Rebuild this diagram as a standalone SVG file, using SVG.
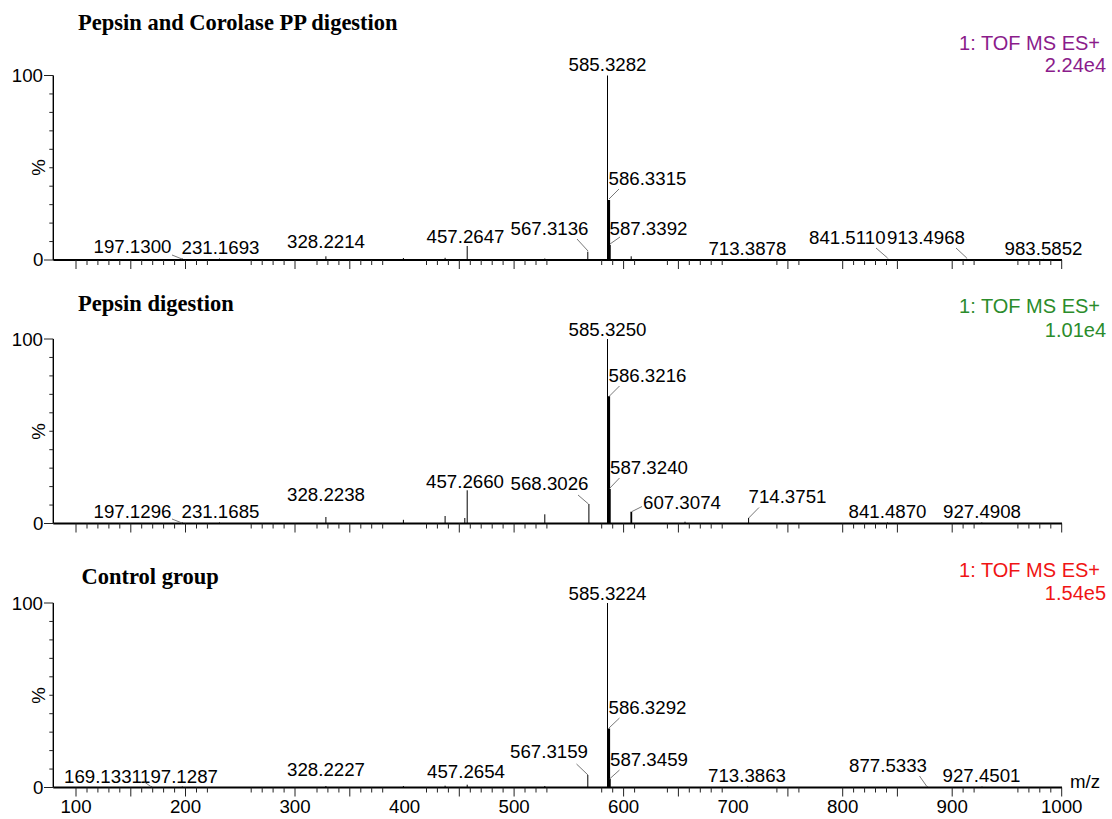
<svg xmlns="http://www.w3.org/2000/svg" width="1112" height="819" viewBox="0 0 1112 819">
<style>
text{font-family:"Liberation Sans",Arial,sans-serif;font-size:18.7px;fill:#000}
.t{font-family:"Liberation Serif","Times New Roman",serif;font-size:22.5px;font-weight:bold}
.h{font-size:20px}
.m{text-anchor:middle}
.e{text-anchor:end}
.ax{stroke:#000;stroke-width:1.4;fill:none}
.bx{stroke:#000;stroke-width:1.8;fill:none}
.tk{stroke:#222;stroke-width:1;fill:none}
.pk{stroke:#000;stroke-width:1;fill:none}
.pk2{stroke:#000;stroke-width:2.4;fill:none}
.pk3{stroke:#000;stroke-width:1.8;fill:none}
.ld{stroke:#555;stroke-width:0.8;fill:none}
.pu{fill:#8b1c8b}
.gr{fill:#2b8c2b}
.rd{fill:#f01414}
</style>
<defs>
<g id="axes">
<path class="ax" d="M53.3 -184.5V0"/>
<path class="bx" d="M53.3 0H1062"/>
<path class="tk" d="M44 0H53.3M44 -184.5H53.3M49.3 -18.45h4M49.3 -36.9h4M49.3 -55.35h4M49.3 -73.8h4M49.3 -92.25h4M49.3 -110.7h4M49.3 -129.15h4M49.3 -147.6h4M49.3 -166.05h4"/>
<path class="tk" d="M76 0v9M130.8 0v9M185.5 0v9M295 0v9M349.8 0v9M459.3 0v9M514.1 0v9M623.6 0v9M678.4 0v9M787.9 0v9M842.7 0v9M897.4 0v9M952.2 0v9M1061.7 0v9"/>
<path class="tk" d="M87 0v5M97.9 0v5M108.9 0v5M119.8 0v5M141.7 0v5M152.7 0v5M163.6 0v5M174.6 0v5M196.5 0v5M207.4 0v5M251.2 0v5M262.2 0v5M273.1 0v5M284.1 0v5M317 0v5M327.9 0v5M338.9 0v5M360.8 0v5M371.7 0v5M382.7 0v5M426.5 0v5M437.4 0v5M448.4 0v5M470.3 0v5M481.2 0v5M492.2 0v5M503.1 0v5M525 0v5M536 0v5M546.9 0v5M601.7 0v5M612.7 0v5M634.6 0v5M667.4 0v5M689.3 0v5M700.3 0v5M711.2 0v5M722.2 0v5M776.9 0v5M798.9 0v5M853.6 0v5M864.6 0v5M875.5 0v5M886.5 0v5M963.1 0v5M974.1 0v5M1017.9 0v5M1028.9 0v5M1039.8 0v5M1050.8 0v5"/>
</g>
</defs>
<rect width="1112" height="819" fill="#fff"/>

<g id="panel1">
<use href="#axes" y="260"/>
<text class="t" x="78" y="30">Pepsin and Corolase PP digestion</text>
<text class="e pu h" x="1100" y="50">1: TOF MS ES+</text>
<text class="e pu h" x="1106" y="71.5">2.24e4</text>
<text class="e" x="43" y="82">100</text>
<text class="e" x="43.5" y="266">0</text>
<text class="m" transform="translate(44.5,167.5) rotate(-90)">%</text>
<path class="pk" d="M607.5 260V75.5M182.3 260V258.5M219.5 260V258.5M325.9 260V256.3M403.4 260V258M445.1 260V257.8M467.2 260V246M544.8 260V258.5M587.8 260V251.7M631.2 260V256.3M747.7 260V258.8M888 260V258.8M966.8 260V258.8M1043.7 260V258.8"/>
<path class="pk2" d="M608.9 260V200"/>
<path class="pk3" d="M609.8 260V245"/>
<text x="93.5" y="253">197.1300</text>
<text x="181.5" y="254">231.1693</text>
<text class="m" x="326" y="248">328.2214</text>
<text class="m" x="465.5" y="243">457.2647</text>
<text class="e" x="588.5" y="235">567.3136</text>
<text class="m" x="607.5" y="71">585.3282</text>
<text x="608.5" y="185">586.3315</text>
<text x="609.5" y="235">587.3392</text>
<text class="m" x="747.4" y="255">713.3878</text>
<text x="809" y="244">841.5110</text>
<text x="887" y="244">913.4968</text>
<text class="m" x="1043.5" y="255">983.5852</text>
</g>

<g id="panel2">
<use href="#axes" y="523.5"/>
<text class="t" x="78" y="311">Pepsin digestion</text>
<text class="e gr h" x="1100" y="313">1: TOF MS ES+</text>
<text class="e gr h" x="1106" y="336.5">1.01e4</text>
<text class="e" x="43" y="345.5">100</text>
<text class="e" x="43.5" y="529.5">0</text>
<text class="m" transform="translate(44.5,431.5) rotate(-90)">%</text>
<path class="pk" d="M607.5 523.5V339M182.3 523.5V522.5M219.5 523.5V522.5M325.9 523.5V517M403.4 523.5V519.8M445.1 523.5V516M464.8 523.5V518M467.2 523.5V490.3M544.8 523.5V514.3M588.9 523.5V504M685 523.5V521.7M748.6 523.5V518M887.5 523.5V522.5M981.8 523.5V522.5"/>
<path class="pk3" d="M631.3 523.5V511.7"/>
<path class="pk2" d="M608.9 523.5V396.2"/>
<path class="pk3" d="M609.8 523.5V489"/>
<text x="93.5" y="518">197.1296</text>
<text x="181.5" y="518">231.1685</text>
<text class="m" x="326" y="500.5">328.2238</text>
<text class="m" x="465" y="488">457.2660</text>
<text class="e" x="588.5" y="490">568.3026</text>
<text class="m" x="607.5" y="336">585.3250</text>
<text x="608.5" y="381.5">586.3216</text>
<text x="610" y="474">587.3240</text>
<text x="643" y="509">607.3074</text>
<text x="748.5" y="503">714.3751</text>
<text class="m" x="887.5" y="518">841.4870</text>
<text class="m" x="982" y="518">927.4908</text>
</g>

<g id="panel3">
<use href="#axes" y="787.5"/>
<text class="t" x="81.5" y="583.5">Control group</text>
<text class="e rd h" x="1100" y="577">1: TOF MS ES+</text>
<text class="e rd h" x="1106" y="600">1.54e5</text>
<text class="e" x="43" y="609.5">100</text>
<text class="e" x="43.5" y="793.5">0</text>
<text class="m" transform="translate(44.5,695.5) rotate(-90)">%</text>
<path class="pk" d="M607.5 787.5V603M151.6 787.5V786.5M182.3 787.5V786.5M325.9 787.5V786M403.4 787.5V786M445.1 787.5V785.7M467.2 787.5V784.7M544.8 787.5V786M587.8 787.5V775M747.7 787.5V786.5M927.2 787.5V786.5M982 787.5V786.5"/>
<path class="pk2" d="M608.9 787.5V728.5"/>
<path class="pk3" d="M609.8 787.5V779"/>
<text x="64" y="783">169.1331</text>
<text x="140" y="783">197.1287</text>
<text class="m" x="326" y="776">328.2227</text>
<text class="m" x="466" y="778">457.2654</text>
<text class="e" x="588" y="758">567.3159</text>
<text class="m" x="607.5" y="599.5">585.3224</text>
<text x="608.5" y="714">586.3292</text>
<text x="610" y="766">587.3459</text>
<text class="m" x="747" y="782">713.3863</text>
<text class="m" x="888" y="772">877.5333</text>
<text class="m" x="981.5" y="782">927.4501</text>
<text x="1070" y="788">m/z</text>
<g class="m">
<text x="76" y="813">100</text>
<text x="185.5" y="813">200</text>
<text x="295" y="813">300</text>
<text x="404.6" y="813">400</text>
<text x="514.1" y="813">500</text>
<text x="623.6" y="813">600</text>
<text x="733.1" y="813">700</text>
<text x="842.7" y="813">800</text>
<text x="952.2" y="813">900</text>
<text x="1061.7" y="813">1000</text>
</g>
</g>

<g id="connectors">
<path class="ld" d="M172 255L182 259M577 239L588 251M609 199L619 189M610 244L620 237M876 248L887.6 258M956 248L966.8 258"/>
<path class="ld" d="M172 519L182 523M578 495L588.5 504M609 396.5L619.5 386M609.5 488.5L619.5 478M632 511.5L642 506.5M748.7 518L759 507.5"/>
<path class="ld" d="M143 781L151.5 787M576.5 764L588 775M609 728L619.5 718M609.5 779L619.5 770M919.5 776L926.5 786"/>
</g>
</svg>
